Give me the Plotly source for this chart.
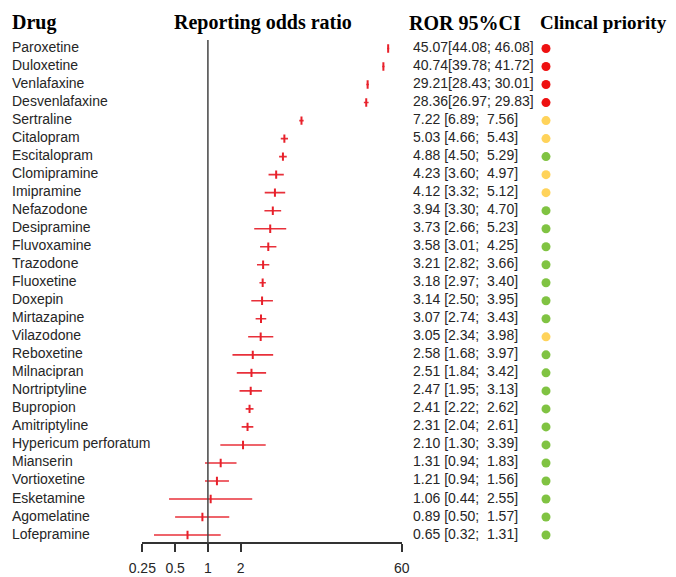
import math
import plotly.graph_objects as go

W, H = 676, 577

drugs = ["Paroxetine", "Duloxetine", "Venlafaxine", "Desvenlafaxine", "Sertraline",
         "Citalopram", "Escitalopram", "Clomipramine", "Imipramine", "Nefazodone",
         "Desipramine", "Fluvoxamine", "Trazodone", "Fluoxetine", "Doxepin",
         "Mirtazapine", "Vilazodone", "Reboxetine", "Milnacipran", "Nortriptyline",
         "Bupropion", "Amitriptyline", "Hypericum perforatum", "Mianserin",
         "Vortioxetine", "Esketamine", "Agomelatine", "Lofepramine"]
ror = [45.07, 40.74, 29.21, 28.36, 7.22, 5.03, 4.88, 4.23, 4.12, 3.94, 3.73, 3.58,
       3.21, 3.18, 3.14, 3.07, 3.05, 2.58, 2.51, 2.47, 2.41, 2.31, 2.10, 1.31, 1.21,
       1.06, 0.89, 0.65]
ci_low = [44.08, 39.78, 28.43, 26.97, 6.89, 4.66, 4.50, 3.60, 3.32, 3.30, 2.66, 3.01,
          2.82, 2.97, 2.50, 2.74, 2.34, 1.68, 1.84, 1.95, 2.22, 2.04, 1.30, 0.94, 0.94,
          0.44, 0.50, 0.32]
ci_high = [46.08, 41.72, 30.01, 29.83, 7.56, 5.43, 5.29, 4.97, 5.12, 4.70, 5.23, 4.25,
           3.66, 3.40, 3.95, 3.43, 3.98, 3.97, 3.42, 3.13, 2.62, 2.61, 3.39, 1.83, 1.56,
           2.55, 1.57, 1.31]
priority = ["High", "High", "High", "High", "Medium", "Medium", "Low", "Medium", "Medium",
            "Low", "Low", "Low", "Low", "Low", "Low", "Low", "Medium", "Low", "Low", "Low",
            "Low", "Low", "Low", "Low", "Low", "Low", "Low", "Low"]
priority_colors = {"High": "#ee1111", "Medium": "#ffd35a", "Low": "#80c342"}
tick_vals = [0.25, 0.5, 1, 2, 60]
tick_text = ["0.25", "0.5", "1", "2", "60"]

NB = "\u00a0"


def ci_label(e, lo, hi):
    if e >= 10:
        return f"{e:.2f}[{lo:.2f};{NB}{hi:.2f}]"
    return f"{e:.2f}{NB}[{lo:.2f};{NB}{NB}{hi:.2f}]"


ci_text = [ci_label(e, lo, hi) for e, lo, hi in zip(ror, ci_low, ci_high)]

# layout geometry (pixels)
row0, step = 48.5, 18.02
axis_y = 543
x_left_px, x_right_px = 142.3, 401.7

y_top = -row0 / step
y_bot = (H - row0) / step

label_font = dict(family="Liberation Sans, Arial, sans-serif", size=14, color="#262626")
head_font = dict(family="Liberation Serif, Times New Roman, serif", size=20, color="#000000")

fig = go.Figure()

# forest plot
fig.add_trace(go.Scatter(
    x=ror, y=drugs, mode="markers",
    marker=dict(symbol="line-ns", size=6, color="#e8202a", line=dict(color="#e8202a", width=2)),
    error_x=dict(type="data", symmetric=False,
                 array=[h - e for h, e in zip(ci_high, ror)],
                 arrayminus=[e - l for e, l in zip(ror, ci_low)],
                 color="#e8303a", thickness=1.6, width=0),
    xaxis="x", yaxis="y", hoverinfo="skip", showlegend=False,
))

# drug labels
fig.add_trace(go.Scatter(
    x=[12] * len(drugs), y=drugs, mode="text", text=drugs,
    textposition="middle right", textfont=label_font,
    xaxis="x2", yaxis="y", hoverinfo="skip", showlegend=False,
))
# CI text
fig.add_trace(go.Scatter(
    x=[413] * len(drugs), y=drugs, mode="text", text=ci_text,
    textposition="middle right", textfont=label_font,
    xaxis="x2", yaxis="y", hoverinfo="skip", showlegend=False,
))
# priority dots
fig.add_trace(go.Scatter(
    x=[546] * len(drugs), y=drugs, mode="markers",
    marker=dict(size=9, color=[priority_colors[p] for p in priority], line=dict(width=0)),
    xaxis="x2", yaxis="y", hoverinfo="skip", showlegend=False,
))

fig.update_layout(
    width=W, height=H,
    margin=dict(l=0, r=0, t=0, b=0, autoexpand=False),
    paper_bgcolor="white", plot_bgcolor="rgba(0,0,0,0)",
    xaxis=dict(
        type="log", domain=[x_left_px / W, x_right_px / W],
        range=[math.log10(0.25), math.log10(60)],
        anchor="free", position=(H - axis_y) / H,
        tickvals=tick_vals, ticktext=tick_text,
        ticks="outside", ticklen=8, tickwidth=1.5, tickcolor="#333333",
        ticklabelstandoff=4,
        showline=True, linecolor="#333333", linewidth=1.5,
        showgrid=False, zeroline=False, automargin=False,
        tickfont=dict(family="Liberation Sans, Arial, sans-serif", size=14, color="#262626"),
    ),
    xaxis2=dict(domain=[0, 1], range=[0, W], visible=False, anchor="y", automargin=False),
    yaxis=dict(type="category", categoryorder="array", categoryarray=drugs,
               range=[y_bot, y_top], visible=False, domain=[0, 1], automargin=False),
    shapes=[dict(type="line", xref="x", yref="paper", x0=1, x1=1,
                 y0=(H - axis_y) / H, y1=(H - 40) / H,
                 line=dict(color="#444444", width=1.5))],
    annotations=[
        dict(text="<b>Drug</b>", x=10 / W, y=1 - 23 / H, xref="paper", yref="paper",
             xanchor="left", yanchor="middle", showarrow=False, font=head_font),
        dict(text="<b>Reporting odds ratio</b>", x=263 / W, y=1 - 23 / H, xref="paper", yref="paper",
             xanchor="center", yanchor="middle", showarrow=False, font=head_font),
        dict(text="<b>ROR 95%CI</b>", x=407 / W, y=1 - 23 / H, xref="paper", yref="paper",
             xanchor="left", yanchor="middle", showarrow=False, font=head_font),
        dict(text="<b>Clincal priority</b>", x=538 / W, y=1 - 23 / H, xref="paper", yref="paper",
             xanchor="left", yanchor="middle", showarrow=False,
             font=dict(family="Liberation Serif, Times New Roman, serif", size=19, color="#000000")),
    ],
)

fig.write_html("out.html", config={"displayModeBar": False},
               post_script="document.body.style.margin='0';document.body.style.overflow='hidden';")
